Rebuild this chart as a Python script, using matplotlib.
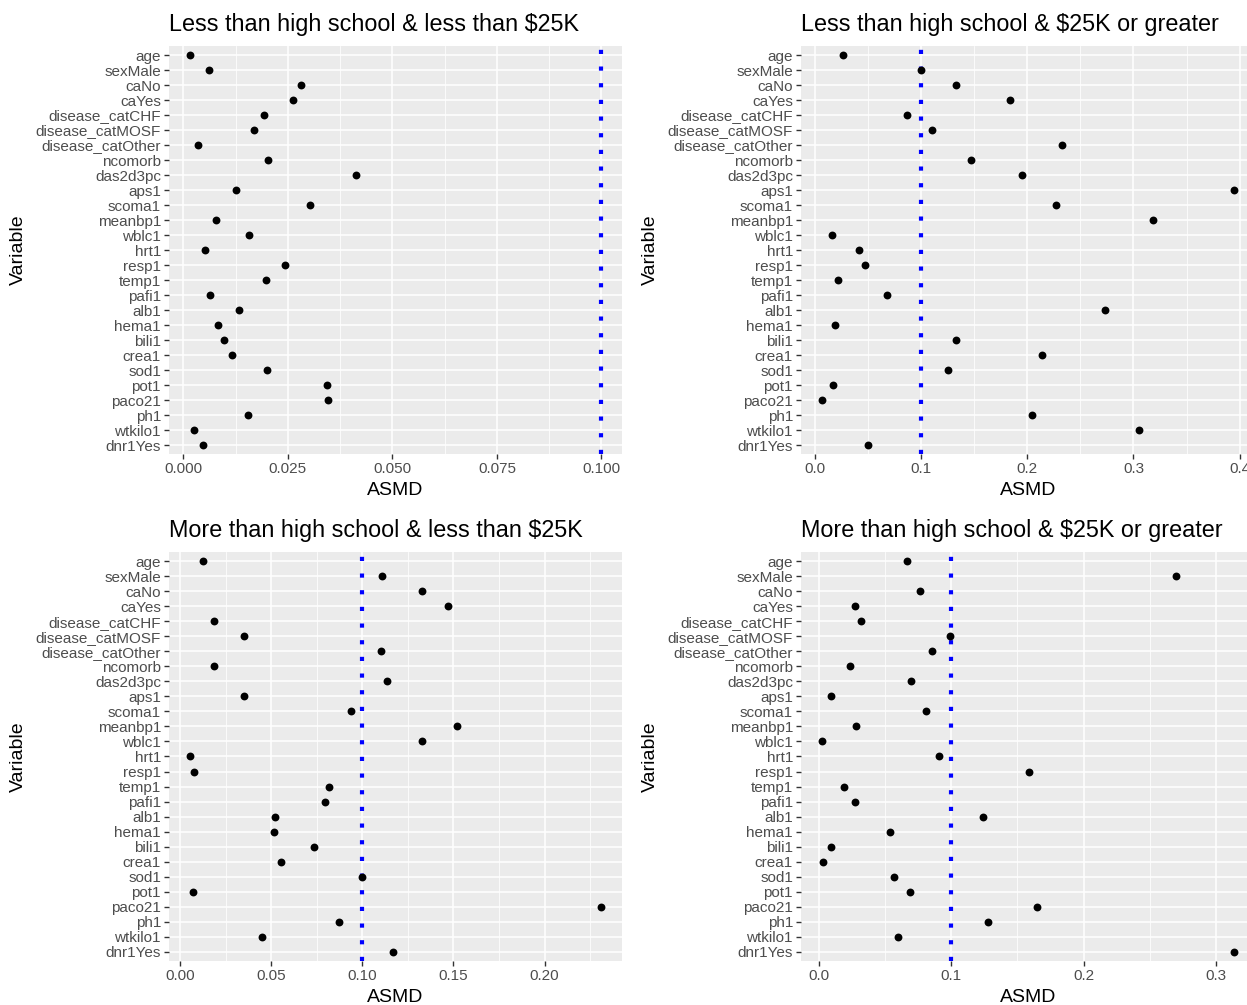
import matplotlib
matplotlib.use('Agg')
import matplotlib.pyplot as plt
import numpy as np

# --- Data ---
variables = ['age', 'sexMale', 'caNo', 'caYes', 'disease_catCHF', 'disease_catMOSF',
             'disease_catOther', 'ncomorb', 'das2d3pc', 'aps1', 'scoma1', 'meanbp1',
             'wblc1', 'hrt1', 'resp1', 'temp1', 'pafi1', 'alb1', 'hema1', 'bili1',
             'crea1', 'sod1', 'pot1', 'paco21', 'ph1', 'wtkilo1', 'dnr1Yes']

titles = ['Less than high school & less than $25K',
          'Less than high school & $25K or greater',
          'More than high school & less than $25K',
          'More than high school & $25K or greater']

asmd_lths_lt25k = [0.0015, 0.0061, 0.0282, 0.0263, 0.0192, 0.0170, 0.0034, 0.0203, 0.0414,
                   0.0126, 0.0304, 0.0079, 0.0156, 0.0052, 0.0244, 0.0198, 0.0065, 0.0132,
                   0.0082, 0.0097, 0.0116, 0.0200, 0.0343, 0.0347, 0.0154, 0.0026, 0.0047]

asmd_lths_ge25k = [0.0267, 0.1000, 0.1333, 0.1833, 0.0863, 0.1104, 0.2330, 0.1470, 0.1950,
                   0.3950, 0.2270, 0.3180, 0.0156, 0.0411, 0.0470, 0.0219, 0.0674, 0.2730,
                   0.0193, 0.1333, 0.2137, 0.1256, 0.0174, 0.0063, 0.2040, 0.3050, 0.0496]

asmd_mths_lt25k = [0.0126, 0.1110, 0.1325, 0.1472, 0.0186, 0.0353, 0.1100, 0.0186, 0.1136,
                   0.0351, 0.0937, 0.1520, 0.1327, 0.0052, 0.0078, 0.0818, 0.0794, 0.0519,
                   0.0513, 0.0732, 0.0554, 0.1000, 0.0069, 0.2312, 0.0872, 0.0452, 0.1167]

asmd_mths_ge25k = [0.0664, 0.2700, 0.0765, 0.0274, 0.0321, 0.0988, 0.0857, 0.0235, 0.0696,
                   0.0095, 0.0813, 0.0283, 0.0021, 0.0908, 0.1590, 0.0193, 0.0274, 0.1240,
                   0.0536, 0.0095, 0.0033, 0.0571, 0.0690, 0.1646, 0.1280, 0.0598, 0.3140]

xticks_p1 = [0.0, 0.025, 0.05, 0.075, 0.1]
xticklabels_p1 = ['0.000', '0.025', '0.050', '0.075', '0.100']
xticks_p2 = [0.0, 0.1, 0.2, 0.3, 0.4]
xticklabels_p2 = ['0.0', '0.1', '0.2', '0.3', '0.4']
xticks_p3 = [0.0, 0.05, 0.10, 0.15, 0.20]
xticklabels_p3 = ['0.00', '0.05', '0.10', '0.15', '0.20']
xticks_p4 = [0.0, 0.1, 0.2, 0.3]
xticklabels_p4 = ['0.0', '0.1', '0.2', '0.3']

threshold = 0.1

# --- Layout (figure pixels) ---
W, H = 1247, 1005
fig = plt.figure(figsize=(W / 100, H / 100), dpi=100)
plt.rcParams['font.family'] = ['Liberation Sans', 'DejaVu Sans']

panels = [
    (asmd_lths_lt25k, xticks_p1, xticklabels_p1, (169, 46, 622, 454)),
    (asmd_lths_ge25k, xticks_p2, xticklabels_p2, (801, 46, 1255, 454)),
    (asmd_mths_lt25k, xticks_p3, xticklabels_p3, (169, 552, 622, 961)),
    (asmd_mths_ge25k, xticks_p4, xticklabels_p4, (801, 552, 1255, 961)),
]

n = len(variables)
ypos = np.arange(n)[::-1]

for (vals, xt, xtl, box), title in zip(panels, titles):
    x0, y0, x1, y1 = box
    ax = fig.add_axes([x0 / W, 1 - y1 / H, (x1 - x0) / W, (y1 - y0) / H])
    ax.set_facecolor('#EBEBEB')
    for s in ax.spines.values():
        s.set_visible(False)

    lo = min(min(vals), threshold)
    hi = max(max(vals), threshold)
    pad = (hi - lo) * 0.05
    ax.set_xlim(lo - pad, hi + pad)
    ax.set_ylim(-0.6, n - 1 + 0.6)

    # grid
    minor = [(a + b) / 2 for a, b in zip(xt[:-1], xt[1:])]
    minor.append(xt[-1] + (xt[1] - xt[0]) / 2)
    for m in minor:
        ax.axvline(m, color='white', lw=0.55, zorder=0)
    for t in xt:
        ax.axvline(t, color='white', lw=1.1, zorder=0)
    for y in ypos:
        ax.axhline(y, color='white', lw=1.1, zorder=0)

    ax.axvline(threshold, color='#0000FF', lw=3.0, linestyle=(0, (1, 3)), zorder=2)
    ax.scatter(vals, ypos, s=32, color='black', zorder=3, linewidths=0)

    ax.set_xticks(xt)
    ax.set_xticklabels(xtl)
    ax.set_yticks(ypos)
    ax.set_yticklabels(variables)
    ax.tick_params(axis='both', length=3.8, width=1.0, color='#333333',
                   labelcolor='#4D4D4D', labelsize=11, pad=2)

    ax.set_title(title, fontsize=16.8, color='black', pad=11, loc='left')
    ax.set_xlabel('ASMD', fontsize=14, labelpad=4)
    ax.set_ylabel('Variable', fontsize=14, labelpad=6)

fig.savefig('out.png', dpi=100)
